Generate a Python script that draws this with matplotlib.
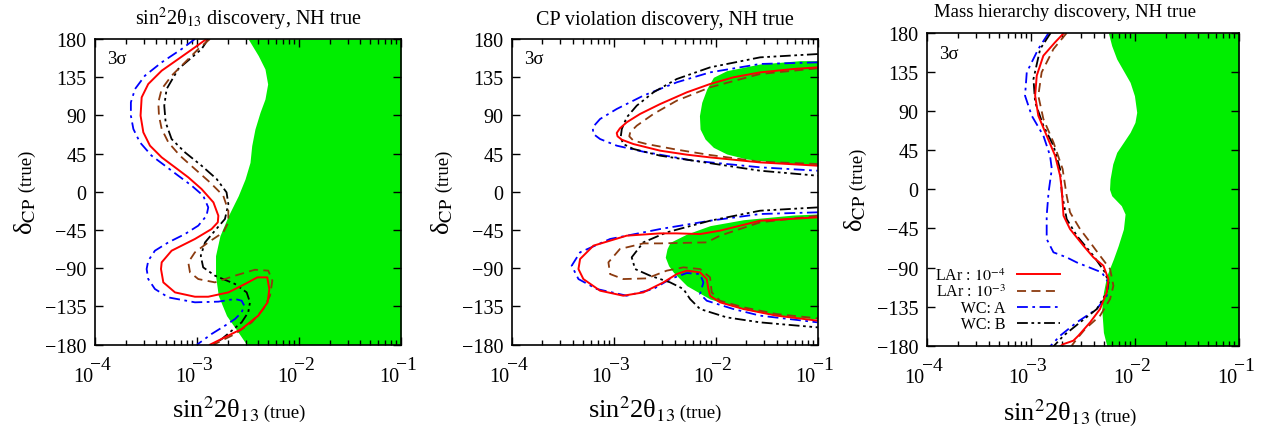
import matplotlib.pyplot as plt
from matplotlib.ticker import LogLocator, NullLocator, NullFormatter
from matplotlib.transforms import blended_transform_factory, offset_copy

plt.rcParams['font.family'] = ['Liberation Serif', 'DejaVu Serif']
plt.rcParams['mathtext.fontset'] = 'stix'

# ─────────────────────────────────────────────
# DATA  (x = sin^2 2theta13 true, y = delta_CP true in degrees)
# ─────────────────────────────────────────────
X_MIN, X_MAX = 1e-4, 1e-1
xtick_exps = [-4, -3, -2, -1]
ytick_vals = [-180, -135, -90, -45, 0, 45, 90, 135, 180]

# panel 1 : theta13 discovery
t13_fill_dcp = [180, 160.4, 144.7, 127.0, 109.3, 93.6, 74.0, 54.4, 34.7, 15.1, -4.5, -28.1, -51.6, -75.2, -98.7,
                -122.3, -145.8, -165.5, -180]
t13_fill_s2 = [3.18e-3, 3.99e-3, 4.64e-3, 4.93e-3, 4.64e-3, 4.15e-3, 3.70e-3, 3.44e-3, 3.31e-3, 2.96e-3, 2.54e-3,
               2.03e-3, 1.68e-3, 1.52e-3, 1.52e-3, 1.62e-3, 1.95e-3, 2.54e-3, 3.07e-3]

t13_lar4_dcp = [180, 170.2, 156.4, 142.7, 127.0, 111.3, 89.7, 70.1, 54.4, 40.6, 28.9, 17.1, 3.3, -12.4, -28.1,
                -35.9, -43.8, -55.5, -69.3, -83.0, -90.9, -106.6, -118.4, -123.5, -123.5, -118.4, -108.5, -100.7,
                -100.7, -114.4, -130.1, -145.8, -161.5, -180]
t13_lar4_s2 = [1.24e-3, 9.55e-4, 6.56e-4, 4.51e-4, 3.33e-4, 2.87e-4, 2.80e-4, 2.98e-4, 3.46e-4, 4.51e-4, 6.09e-4,
               8.22e-4, 1.11e-3, 1.45e-3, 1.62e-3, 1.60e-3, 1.39e-3, 9.55e-4, 5.64e-4, 4.51e-4, 4.44e-4, 4.68e-4,
               6.09e-4, 9.55e-4, 1.29e-3, 2.03e-3, 2.96e-3, 3.91e-3, 4.89e-3, 5.12e-3, 4.93e-3, 3.99e-3, 2.74e-3,
               1.34e-3]

t13_lar3_dcp = [180, 168.2, 152.5, 136.8, 121.1, 105.4, 89.7, 74.0, 58.3, 42.6, 26.9, 11.2, -4.5, -22.2, -35.9,
                -47.7, -59.5, -71.2, -83.0, -94.8, -102.7, -106.6, -98.7, -91.7, -92.8, -104.6, -122.3, -138.0,
                -153.7, -167.4, -180]
t13_lar3_s2 = [1.34e-3, 1.03e-3, 7.63e-4, 5.64e-4, 4.51e-4, 4.18e-4, 4.24e-4, 4.51e-4, 5.24e-4, 6.81e-4, 9.55e-4,
               1.34e-3, 1.81e-3, 2.03e-3, 2.03e-3, 1.81e-3, 1.29e-3, 9.55e-4, 8.22e-4, 8.54e-4, 1.03e-3, 1.50e-3,
               2.36e-3, 3.70e-3, 5.0e-3, 5.48e-3, 5.20e-3, 4.47e-3, 3.44e-3, 2.36e-3, 1.45e-3]

t13_wca_dcp = [180, 168.2, 152.5, 136.8, 121.1, 105.4, 89.7, 74.0, 58.3, 42.6, 30.8, 19.0, 7.3, -4.5, -18.3,
               -28.1, -39.8, -49.7, -59.5, -69.3, -81.1, -90.9, -102.7, -114.4, -124.3, -130.1, -129.3, -126.2,
               -128.2, -134.1, -141.9, -149.8, -157.6, -167.4, -180]
t13_wca_s2 = [9.55e-4, 7.08e-4, 4.51e-4, 3.09e-4, 2.47e-4, 2.25e-4, 2.25e-4, 2.38e-4, 2.76e-4, 3.59e-4, 4.86e-4,
              6.56e-4, 8.87e-4, 1.15e-3, 1.29e-3, 1.24e-3, 1.03e-3, 7.63e-4, 5.24e-4, 3.87e-4, 3.33e-4, 3.21e-4,
              3.33e-4, 3.87e-4, 5.24e-4, 9.55e-4, 1.62e-3, 2.36e-3, 2.74e-3, 2.91e-3, 2.74e-3, 2.36e-3, 1.88e-3,
              1.39e-3, 1.0e-3]

t13_wcb_dcp = [180, 168.2, 144.7, 121.1, 101.5, 81.9, 62.2, 46.5, 30.8, 15.1, -0.6, -14.3, -32.0, -45.7, -59.5,
               -75.2, -88.9, -98.7, -108.5, -118.4, -130.1, -141.9, -153.7, -163.5, -173.3, -180]
t13_wcb_s2 = [1.29e-3, 1.11e-3, 6.56e-4, 5.04e-4, 4.78e-4, 4.93e-4, 5.64e-4, 7.63e-4, 1.11e-3, 1.56e-3, 1.95e-3,
              2.03e-3, 1.88e-3, 1.50e-3, 1.20e-3, 1.09e-3, 1.15e-3, 1.50e-3, 2.36e-3, 3.07e-3, 3.31e-3, 3.18e-3,
              2.74e-3, 2.19e-3, 1.75e-3, 1.45e-3]

# panel 2 : CP violation discovery (upper and lower islands)
cpv_fill_up_dcp = [154.5, 154.5, 150.6, 142.7, 134.9, 121.1, 105.4, 89.7, 74.0, 62.2, 52.4, 44.6, 38.7, 34.7, 30.8]
cpv_fill_up_s2 = [0.1, 6.71e-2, 2.72e-2, 1.28e-2, 9.48e-3, 8.16e-3, 7.29e-3, 6.92e-3, 7.02e-3, 7.86e-3, 9.48e-3,
                  1.28e-2, 2.01e-2, 3.96e-2, 0.1]
cpv_fill_lo_dcp = [-26.1, -27.3, -32.8, -39.8, -49.7, -59.5, -67, -77, -87, -94.8, -110.5, -126.2, -138, -145.8, -149.8]
cpv_fill_lo_s2 = [0.1, 5.77e-2, 1.87e-2, 8.79e-3, 5.2e-3, 3.57e-3, 3.33e-3, 3.2e-3, 3.45e-3, 3.85e-3, 5.2e-3,
                  8.79e-3, 1.87e-2, 3.96e-2, 0.1]

cpv_lar4_up_dcp = [146.6, 144.7, 140.7, 134.9, 127.0, 117.2, 103.4, 91.7, 81.9, 74.8, 69.3, 65.4, 61.4, 56.3, 48.5,
                   43.8, 40.6, 34.7, 30.8]
cpv_lar4_up_s2 = [0.1, 5.77e-2, 2.72e-2, 1.49e-2, 8.79e-3, 5.2e-3, 2.85e-3, 1.81e-3, 1.34e-3, 1.15e-3, 1.07e-3,
                  1.09e-3, 1.20e-3, 1.56e-3, 2.85e-3, 5.2e-3, 8.79e-3, 2.72e-2, 0.1]
cpv_lar3_up_dcp = [145.5, 138.8, 123.1, 107.4, 91.7, 77.9, 70.1, 65.4, 60.3, 56.3, 49.7, 43.4, 35.5, 32.8]
cpv_lar3_up_s2 = [0.1, 2.72e-2, 8.79e-3, 4.15e-3, 2.45e-3, 1.68e-3, 1.45e-3, 1.42e-3, 1.56e-3, 2.11e-3, 4.15e-3,
                  8.79e-3, 2.72e-2, 0.1]
cpv_wca_up_dcp = [152.5, 150.6, 140.7, 129.0, 113.3, 97.6, 85.8, 76.0, 68.1, 62.2, 54.4, 47.3, 36.7, 28.9, 24.9]
cpv_wca_up_s2 = [0.1, 2.72e-2, 8.79e-3, 4.15e-3, 1.95e-3, 1.07e-3, 7.35e-4, 6.22e-4, 6.32e-4, 7.35e-4, 1.07e-3,
                 1.95e-3, 6.04e-3, 2.72e-2, 0.1]
cpv_wcb_up_dcp = [162.3, 158.4, 146.6, 132.9, 117.2, 101.5, 87.7, 74.0, 64.2, 56.3, 50.5, 42.6, 36.7, 24.9, 19.0]
cpv_wcb_up_s2 = [0.1, 2.72e-2, 8.79e-3, 4.15e-3, 2.45e-3, 1.68e-3, 1.34e-3, 1.20e-3, 1.17e-3, 1.24e-3, 1.56e-3,
                 2.85e-3, 6.04e-3, 2.72e-2, 0.1]

cpv_lar4_lo_dcp = [-30.0, -34.0, -45.7, -49.7, -48.9, -48.9, -51.6, -63.4, -79.1, -90.9, -102.7, -116.4, -122.3,
                   -118.4, -106.6, -96.8, -92.8, -94.8, -102.7, -114.4, -122.3, -130.1, -138.0, -145.8, -151.7]
cpv_lar4_lo_s2 = [0.1, 2.72e-2, 1.10e-2, 7.02e-3, 4.15e-3, 2.85e-3, 1.34e-3, 6.32e-4, 4.68e-4, 4.51e-4, 5.04e-4,
                  7.35e-4, 1.24e-3, 1.95e-3, 3.07e-3, 4.15e-3, 5.2e-3, 7.02e-3, 8.16e-3, 8.47e-3, 8.79e-3, 1.10e-2,
                  1.87e-2, 3.96e-2, 0.1]
cpv_lar3_lo_dcp = [-28.1, -35.9, -51.6, -59.5, -60.7, -60.7, -67.3, -83.0, -96.8, -102.7, -101.9, -92.8, -88.9,
                   -90.9, -100.7, -118.4, -128.2, -136.0, -143.9, -149.0]
cpv_lar3_lo_s2 = [0.1, 2.72e-2, 1.10e-2, 8.16e-3, 2.85e-3, 1.95e-3, 1.15e-3, 8.87e-4, 9.21e-4, 1.24e-3, 2.11e-3,
                  3.31e-3, 4.82e-3, 7.02e-3, 8.79e-3, 9.14e-3, 1.10e-2, 1.87e-2, 3.96e-2, 0.1]
cpv_wca_lo_dcp = [-24.1, -26.1, -34.0, -43.8, -55.5, -71.2, -87.0, -102.7, -114.4, -122.3, -114.4, -102.7, -95.6,
                  -96.8, -106.6, -120.3, -128.2, -138.0, -145.8, -153.7]
cpv_wca_lo_s2 = [0.1, 2.72e-2, 8.79e-3, 2.85e-3, 9.21e-4, 4.68e-4, 3.87e-4, 4.51e-4, 6.81e-4, 1.34e-3, 2.45e-3,
                 3.57e-3, 5.2e-3, 7.02e-3, 7.57e-3, 7.02e-3, 8.16e-3, 1.49e-2, 2.72e-2, 0.1]
cpv_wcb_lo_dcp = [-18.3, -22.2, -34.0, -47.7, -59.5, -77.1, -90.9, -98.7, -106.6, -114.4, -126.2, -138.0, -147.8,
                  -153.7, -159.6]
cpv_wcb_lo_s2 = [0.1, 2.72e-2, 8.79e-3, 3.31e-3, 1.95e-3, 1.5e-3, 1.62e-3, 2.27e-3, 3.57e-3, 4.82e-3, 5.6e-3,
                 7.02e-3, 1.28e-2, 2.72e-2, 0.1]

# panel 3 : mass hierarchy discovery
mh_fill_dcp = [180, 165.4, 150.1, 136.6, 123.2, 107.8, 88.7, 77.1, 65.6, 54.1, 42.6, 29.2, 11.9, 0, -7.3, -18.8,
               -28.4, -45.7, -64.9, -80.2, -99.4, -118.6, -137.8, -164.7, -180]
mh_fill_s2 = [5.56e-3, 5.98e-3, 6.68e-3, 7.75e-3, 8.98e-3, 9.89e-3, 1.04e-2, 1.0e-2, 8.98e-3, 7.75e-3, 6.68e-3,
              6.12e-3, 5.77e-3, 5.7e-3, 5.98e-3, 7.4e-3, 8.04e-3, 7.75e-3, 6.9e-3, 6.21e-3, 5.36e-3, 4.98e-3,
              4.8e-3, 4.98e-3, 5.36e-3]

mh_lar4_dcp = [180, 169.3, 153.9, 130.9, 107.8, 84.8, 61.8, 38.8, 15.7, 0.4, -30.3, -45.7, -64.9, -78.3, -87.9,
               -103.2, -118.6, -137.8, -153.1, -168.5, -174.2, -178.1, -180.8]
mh_lar4_s2 = [2.08e-3, 1.71e-3, 1.32e-3, 1.14e-3, 1.10e-3, 1.18e-3, 1.42e-3, 1.71e-3, 1.91e-3, 1.98e-3, 2.06e-3,
              2.38e-3, 3.20e-3, 3.99e-3, 4.98e-3, 5.56e-3, 5.36e-3, 4.62e-3, 3.71e-3, 2.86e-3, 2.56e-3, 2.06e-3, 1.91e-3]
mh_lar3_dcp = [180, 161.6, 134.7, 107.8, 81.0, 54.1, 23.4, -7.3, -26.5, -45.7, -61.0, -76.4, -91.7, -110.9,
               -126.3, -145.5, -160.8, -172.3, -180]
mh_lar3_s2 = [2.21e-3, 1.65e-3, 1.27e-3, 1.18e-3, 1.32e-3, 1.65e-3, 2.02e-3, 2.21e-3, 2.38e-3, 2.97e-3, 3.71e-3,
              4.62e-3, 5.77e-3, 6.21e-3, 5.77e-3, 4.62e-3, 3.32e-3, 2.76e-3, 2.47e-3]
mh_wca_dcp = [180, 161.6, 134.7, 107.8, 84.8, 61.8, 38.8, 23.4, -3.5, -30.3, -57.2, -72.5, -78.3, -84.1, -95.6,
              -107.1, -122.4, -137.8, -153.1, -168.5, -180.8]
mh_wca_s2 = [1.48e-3, 1.18e-3, 9.14e-4, 8.80e-4, 1.02e-3, 1.32e-3, 1.53e-3, 1.59e-3, 1.48e-3, 1.42e-3, 1.42e-3,
             1.65e-3, 2.21e-3, 2.76e-3, 4.80e-3, 5.56e-3, 5.36e-3, 4.30e-3, 2.76e-3, 1.91e-3, 1.53e-3]
mh_wcb_dcp = [180, 161.6, 127.0, 100.2, 73.3, 50.3, 23.4, -3.5, -34.2, -53.3, -76.4, -95.6, -107.1, -118.6,
              -137.8, -153.1, -168.5, -180.8]
mh_wcb_s2 = [1.55e-3, 1.23e-3, 1.06e-3, 1.10e-3, 1.32e-3, 1.65e-3, 1.91e-3, 1.98e-3, 2.21e-3, 2.76e-3, 3.99e-3,
             5.16e-3, 5.56e-3, 5.36e-3, 4.30e-3, 2.97e-3, 2.06e-3, 1.65e-3]

legend_labels = [r'LAr : $10^{-4}$', r'LAr : $10^{-3}$', ' WC: A', ' WC: B']
titles = [r'sin$^2$2θ$_{13}$ discovery, NH true', 'CP violation discovery, NH true',
          'Mass hierarchy discovery, NH true']

# ─────────────────────────────────────────────
# STYLES
# ─────────────────────────────────────────────
GREEN = '#00ee00'
sty = {
    'lar4': dict(color='#ff0000', lw=1.4, ls='-'),
    'lar3': dict(color='#8b3a0f', lw=1.3, ls=(0, (5, 3))),
    'wca':  dict(color='#0000ff', lw=1.3, ls=(0, (6, 2.5, 1.5, 2.5))),
    'wcb':  dict(color='black',   lw=1.3, ls=(0, (6, 2, 1.5, 2, 1.5, 2))),
}

fig = plt.figure(figsize=(12.61, 4.27), dpi=100)
ax1 = fig.add_axes([0.0753, 0.1904, 0.2427, 0.7159])
ax2 = fig.add_axes([0.4058, 0.1904, 0.2427, 0.7159])
ax3 = fig.add_axes([0.7349, 0.1880, 0.2477, 0.7324])


def setup(ax):
    ax.set_xscale('log')
    ax.set_xlim(X_MIN, X_MAX)
    ax.set_ylim(-180, 180)
    ax.set_yticks(ytick_vals)
    ax.yaxis.set_minor_locator(NullLocator())
    ax.set_xticks([10.0 ** e for e in xtick_exps])
    ax.xaxis.set_minor_locator(LogLocator(base=10, subs=range(2, 10), numticks=20))
    ax.xaxis.set_major_formatter(NullFormatter())
    ax.xaxis.set_minor_formatter(NullFormatter())
    ax.tick_params(which='both', direction='in', top=True, right=True, labelsize=14.5, width=1.0)
    ax.tick_params(axis='y', which='major', length=6, pad=6)
    ax.tick_params(axis='x', which='major', length=6)
    ax.tick_params(which='minor', length=3.5)
    for s in ax.spines.values():
        s.set_linewidth(1.2)
    # gnuplot-like 10^n labels, exponent as large as the base
    tr = blended_transform_factory(ax.transData, ax.transAxes)
    for e in xtick_exps:
        ax.text(10.0 ** e, 0, '10', transform=offset_copy(tr, fig=fig, x=-2, y=-36, units='dots'),
                ha='right', va='baseline', fontsize=14.5)
        ax.text(10.0 ** e, 0, '\u2212%d' % abs(e), transform=offset_copy(tr, fig=fig, x=-5, y=-24, units='dots'),
                ha='left', va='baseline', fontsize=14)
    ax.text(0.04, 0.935, '3σ', transform=ax.transAxes, ha='left', va='center', fontsize=13.5)
    # axis labels, big symbol + small "(true)"
    ax.text(-0.205, 0.485, r'δ$_{\rm CP}$', transform=ax.transAxes, rotation=90, rotation_mode='anchor',
            ha='right', va='baseline', fontsize=19)
    ax.text(-0.205, 0.485, ' (true)', transform=ax.transAxes, rotation=90, rotation_mode='anchor',
            ha='left', va='baseline', fontsize=13.5)


def xlabel(ax, xa, ya):
    ax.text(xa, ya, r'sin$^2$2θ$_{13}$', transform=ax.transAxes, ha='right', va='baseline', fontsize=19)
    ax.text(xa, ya, ' (true)', transform=ax.transAxes, ha='left', va='baseline', fontsize=13.5)


for ax in (ax1, ax2, ax3):
    setup(ax)

# panel 1
ax1.fill_betweenx(t13_fill_dcp, t13_fill_s2, X_MAX, color=GREEN, lw=0)
ax1.plot(t13_wca_s2, t13_wca_dcp, **sty['wca'])
ax1.plot(t13_wcb_s2, t13_wcb_dcp, **sty['wcb'])
ax1.plot(t13_lar3_s2, t13_lar3_dcp, **sty['lar3'])
ax1.plot(t13_lar4_s2, t13_lar4_dcp, **sty['lar4'])
ax1.set_title(titles[0], fontsize=14.5, pad=11)
xlabel(ax1, 0.536, -0.2365)

# panel 2
ax2.fill_betweenx(cpv_fill_up_dcp, cpv_fill_up_s2, X_MAX, color=GREEN, lw=0)
ax2.fill_betweenx(cpv_fill_lo_dcp, cpv_fill_lo_s2, X_MAX, color=GREEN, lw=0)
ax2.plot(cpv_wca_up_s2, cpv_wca_up_dcp, **sty['wca'])
ax2.plot(cpv_wca_lo_s2, cpv_wca_lo_dcp, **sty['wca'])
ax2.plot(cpv_wcb_up_s2, cpv_wcb_up_dcp, **sty['wcb'])
ax2.plot(cpv_wcb_lo_s2, cpv_wcb_lo_dcp, **sty['wcb'])
ax2.plot(cpv_lar3_up_s2, cpv_lar3_up_dcp, **sty['lar3'])
ax2.plot(cpv_lar3_lo_s2, cpv_lar3_lo_dcp, **sty['lar3'])
ax2.plot(cpv_lar4_up_s2, cpv_lar4_up_dcp, **sty['lar4'])
ax2.plot(cpv_lar4_lo_s2, cpv_lar4_lo_dcp, **sty['lar4'])
ax2.set_title(titles[1], fontsize=14.5, pad=11)
xlabel(ax2, 0.533, -0.2365)

# panel 3
ax3.fill_betweenx(mh_fill_dcp, mh_fill_s2, X_MAX, color=GREEN, lw=0)
h_wca, = ax3.plot(mh_wca_s2, mh_wca_dcp, **sty['wca'])
h_wcb, = ax3.plot(mh_wcb_s2, mh_wcb_dcp, **sty['wcb'])
h_lar3, = ax3.plot(mh_lar3_s2, mh_lar3_dcp, **sty['lar3'])
h_lar4, = ax3.plot(mh_lar4_s2, mh_lar4_dcp, **sty['lar4'])
ax3.set_title(titles[2], fontsize=13.5, pad=12, x=0.443)
xlabel(ax3, 0.523, -0.24)

ax3.legend([h_lar4, h_lar3, h_wca, h_wcb], legend_labels, loc='upper right',
           bbox_to_anchor=(1060 / 1261, 1 - 268 / 427), bbox_transform=fig.transFigure,
           frameon=False, markerfirst=False, fontsize=11.5, handlelength=2.7, handletextpad=0.7,
           labelspacing=0.0, borderpad=0, borderaxespad=0)

fig.savefig('out.png', dpi=100)
